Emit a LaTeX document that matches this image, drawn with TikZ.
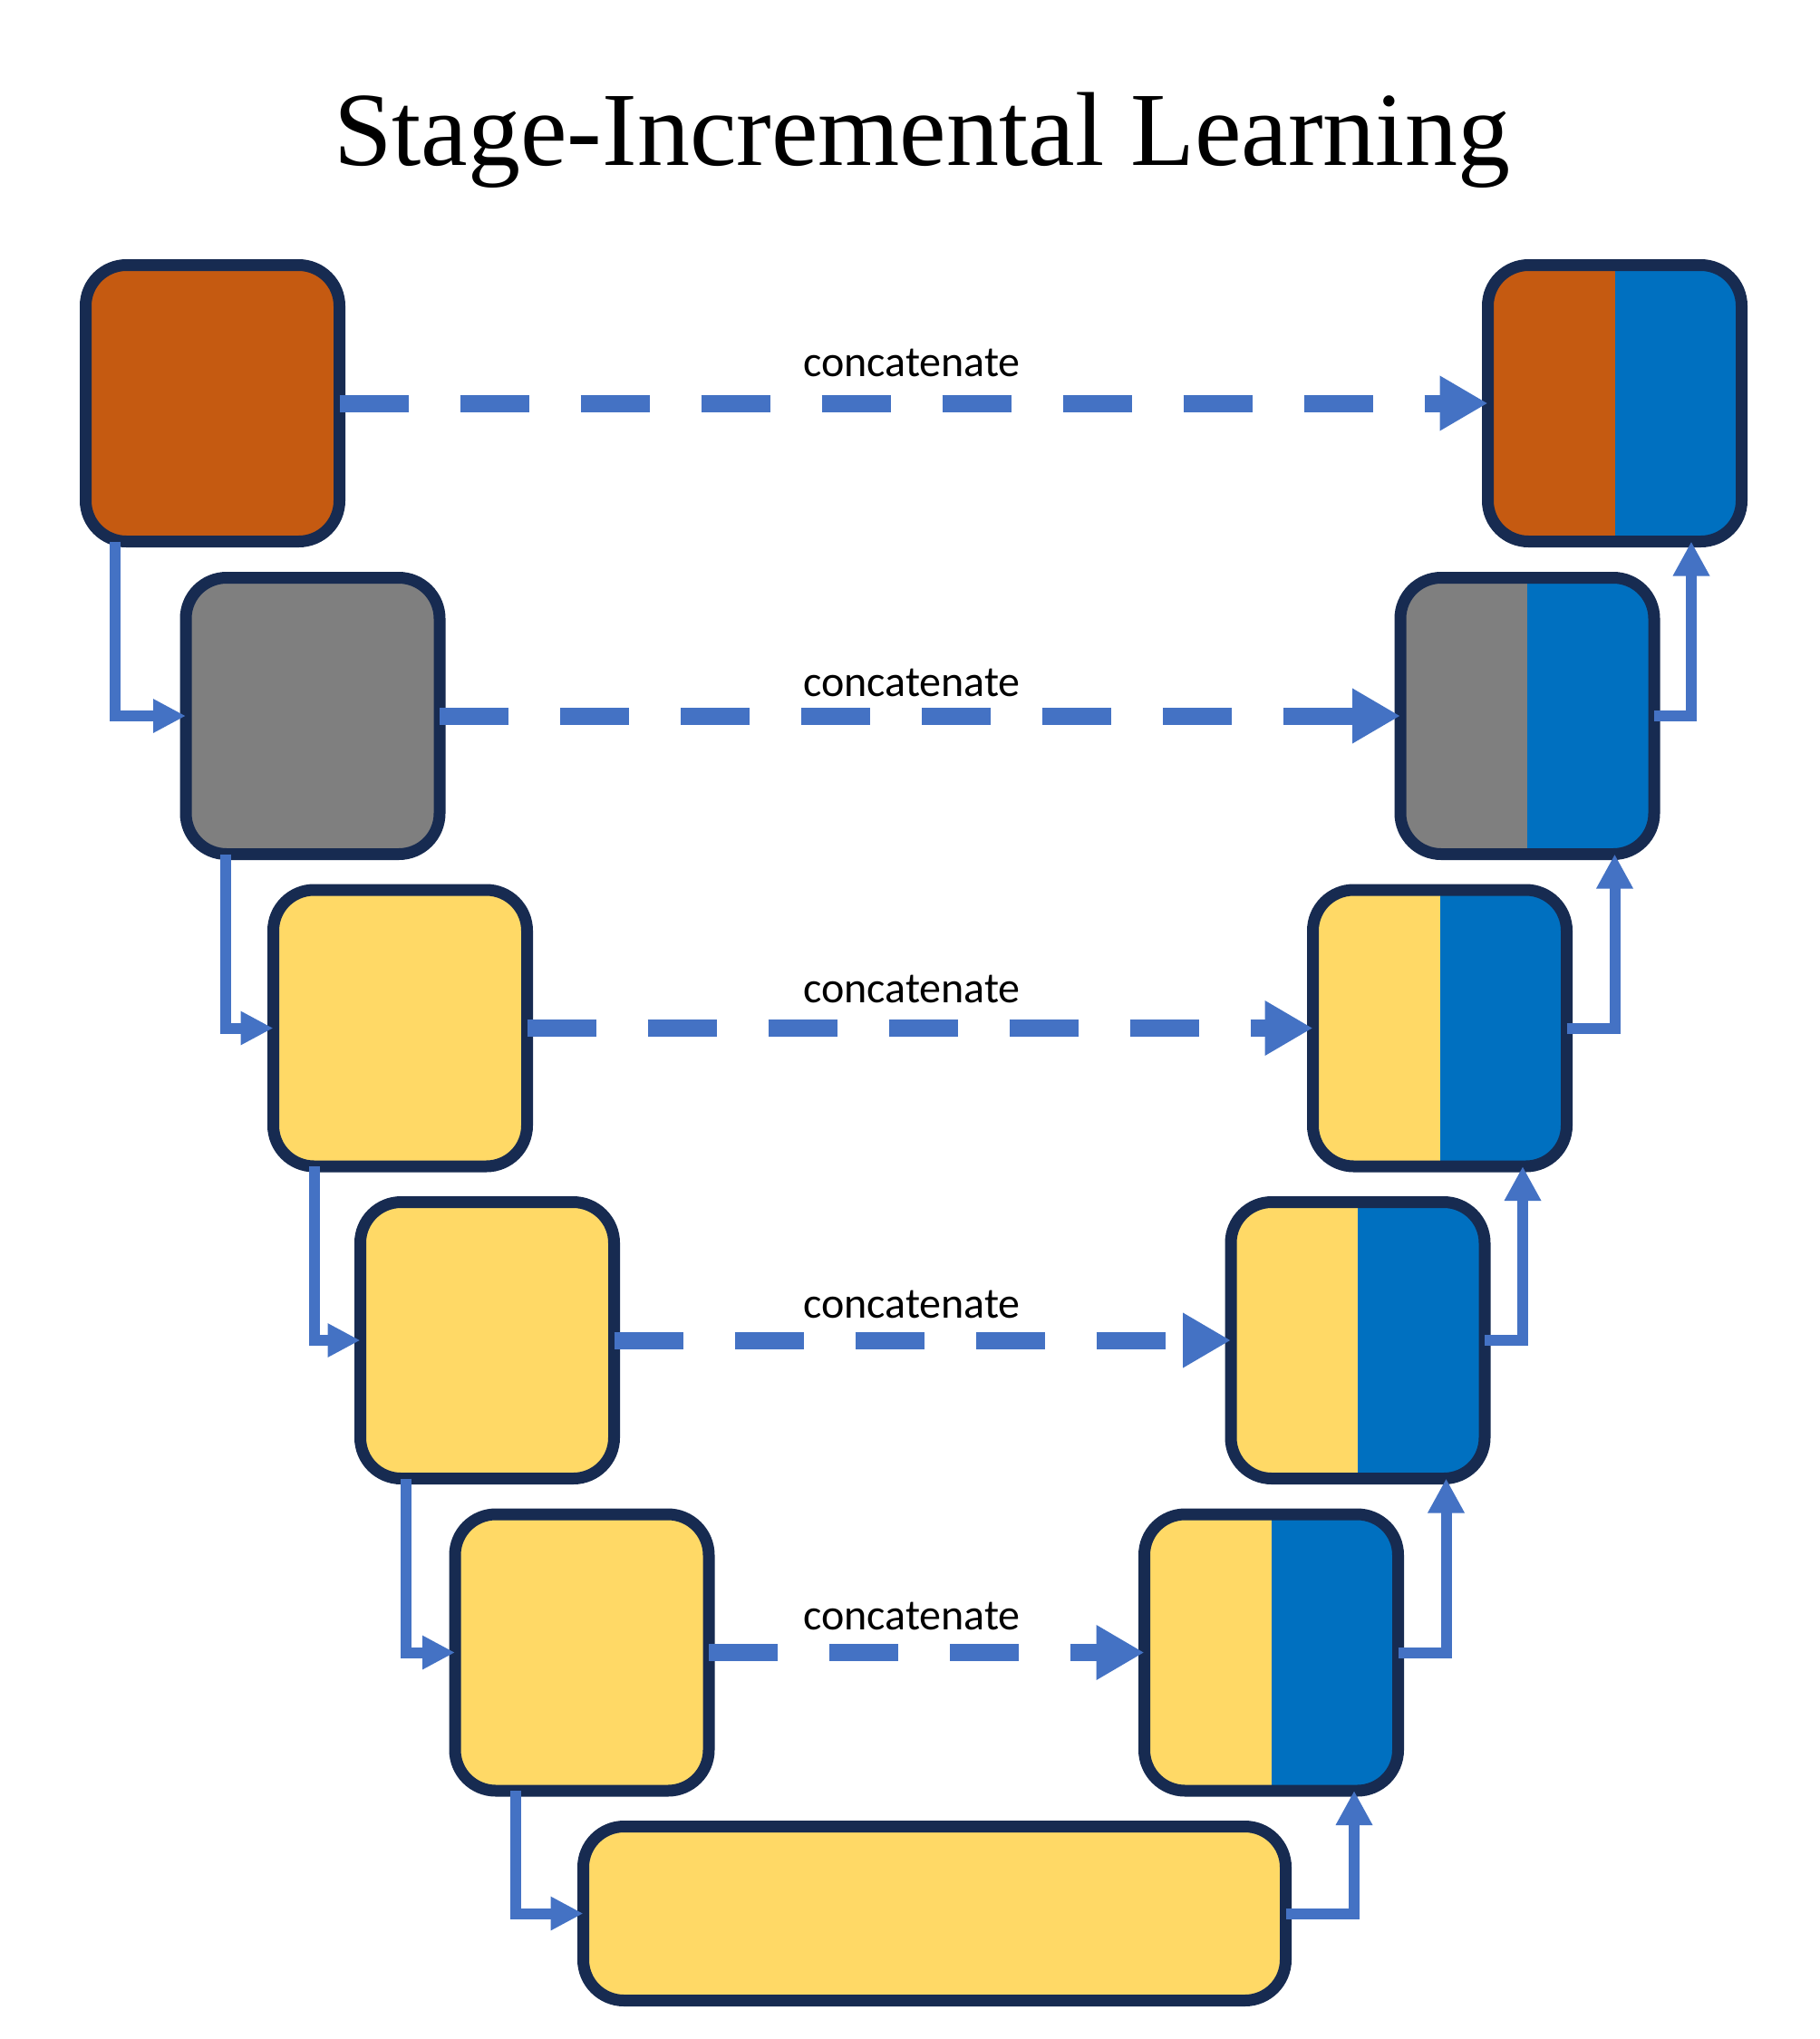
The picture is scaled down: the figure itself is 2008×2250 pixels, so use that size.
\documentclass[tikz,border=0pt]{standalone}
\usepackage{fontspec}
\setmainfont{Liberation Serif}
\newfontfamily\labelfont{Carlito}
\usetikzlibrary{arrows.meta,calc}
\definecolor{borderc}{HTML}{172B51}
\definecolor{orangec}{HTML}{C55A11}
\definecolor{grayc}{HTML}{7F7F7F}
\definecolor{yellowc}{HTML}{FFD966}
\definecolor{bluec}{HTML}{0070C0}
\definecolor{arrowc}{HTML}{4472C4}
\tikzset{
  blk/.style={draw=borderc, line width=6.5pt, rounded corners=22.5pt,
    minimum width=140pt, minimum height=152.5pt, inner sep=0pt, outer sep=0pt},
  half/.style={path picture={\fill[bluec, sharp corners] (path picture bounding box.north) rectangle (path picture bounding box.south east);}},
  dashline/.style={draw=arrowc, line width=9.5pt, dash pattern=on 38pt off 28.5pt,
    -{Triangle[length=26.5pt,width=28.5pt]}},
  elbow/.style={draw=arrowc, line width=6pt, -{Triangle[length=18pt,width=17.5pt]}},
  elbowup/.style={draw=arrowc, line width=6pt, -{Triangle[length=19pt,width=19pt]}},
  lbl/.style={font=\labelfont\fontsize{24pt}{28pt}\selectfont, anchor=base, inner sep=0pt},
}
\begin{document}
\begin{tikzpicture}[x=0.5pt,y=-0.5pt]
\fill[white] (0,0) rectangle (2008,2250);
\node[anchor=base, inner sep=0pt, font=\fontsize{58pt}{66pt}\selectfont] (title) at (1017,182) {Stage-Incremental Learning};
% left column
\node[blk, fill=orangec] (L1) at (234.5,445) {};
\node[blk, fill=grayc] (L2) at (345,790) {};
\node[blk, fill=yellowc] (L3) at (441.5,1134.5) {};
\node[blk, fill=yellowc] (L4) at (537.5,1479) {};
\node[blk, fill=yellowc] (L5) at (642,1823.5) {};
\node[blk, fill=yellowc, minimum width=387.5pt, minimum height=96pt] (B) at (1031,2111.5) {};
% right column
\node[blk, fill=orangec, half] (R1) at (1781.5,445) {};
\node[blk, fill=grayc, half] (R2) at (1685,790) {};
\node[blk, fill=yellowc, half] (R3) at (1588.5,1134.5) {};
\node[blk, fill=yellowc, half] (R4) at (1498,1479) {};
\node[blk, fill=yellowc, half] (R5) at (1402.5,1823.5) {};
% concatenate connectors
\draw[dashline] (L1.east) -- (R1.west);
\draw[dashline] (L2.east) -- (R2.west);
\draw[dashline] (L3.east) -- (R3.west);
\draw[dashline] (L4.east) -- (R4.west);
\draw[dashline] (L5.east) -- (R5.west);
\node[lbl] (c1) at (1006,415) {concatenate};
\node[lbl] (c2) at (1006,768) {concatenate};
\node[lbl] (c3) at (1006,1106.5) {concatenate};
\node[lbl] (c4) at (1006,1454) {concatenate};
\node[lbl] (c5) at (1006,1798.5) {concatenate};
% left elbows
\draw[elbow] ($(L1.south west)+(32,0)$) |- (L2.west);
\draw[elbow] ($(L2.south west)+(43.5,0)$) |- (L3.west);
\draw[elbow] ($(L3.south west)+(45.5,0)$) |- (L4.west);
\draw[elbow] ($(L4.south west)+(50.5,0)$) |- (L5.west);
\draw[elbow] ($(L5.south west)+(66.5,0)$) |- (B.west);
% right elbows
\draw[elbowup] (R2.east) -| ($(R1.south east)+(-55.5,0)$);
\draw[elbowup] (R3.east) -| ($(R2.south east)+(-43.5,0)$);
\draw[elbowup] (R4.east) -| ($(R3.south east)+(-48.5,0)$);
\draw[elbowup] (R5.east) -| ($(R4.south east)+(-42.5,0)$);
\draw[elbowup] (B.east) -| ($(R5.south east)+(-48.5,0)$);
\end{tikzpicture}
\end{document}
